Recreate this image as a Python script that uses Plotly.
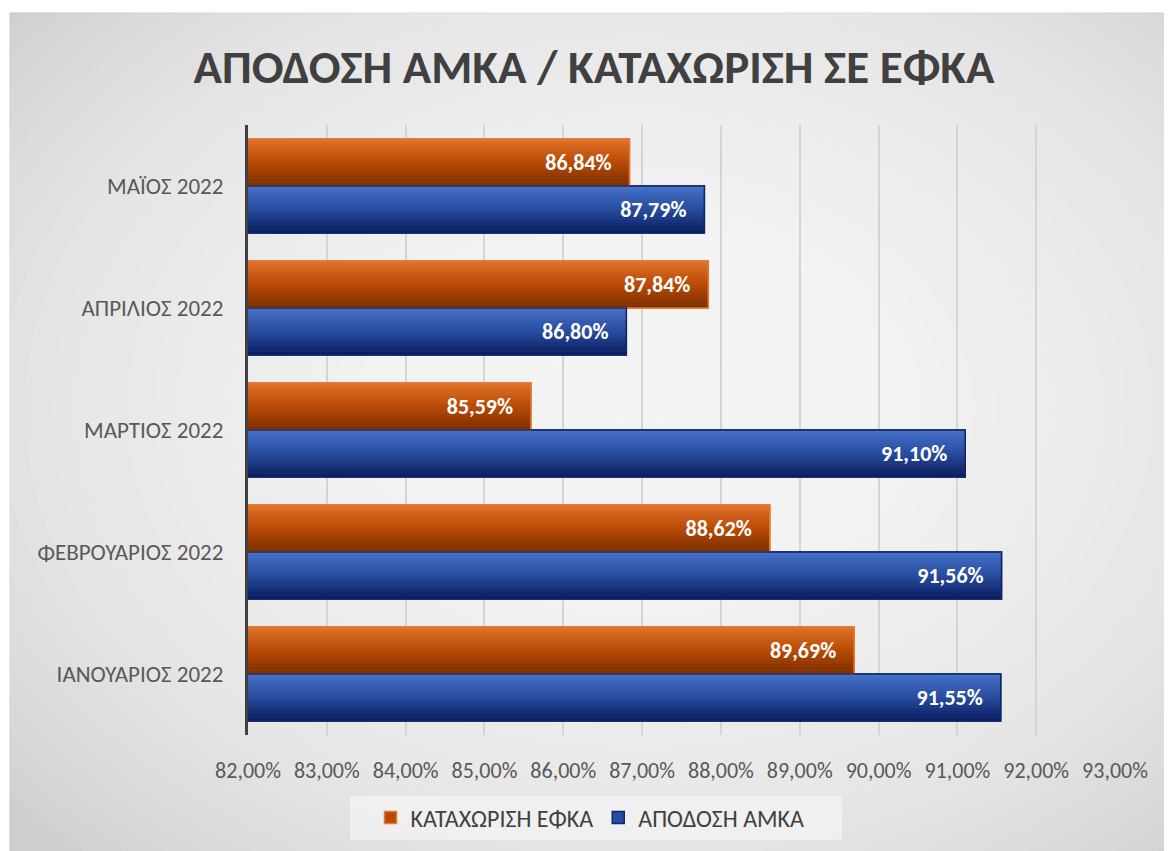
import plotly.graph_objects as go

months = ["ΙΑΝΟΥΑΡΙΟΣ 2022", "ΦΕΒΡΟΥΑΡΙΟΣ 2022", "ΜΑΡΤΙΟΣ 2022", "ΑΠΡΙΛΙΟΣ 2022", "ΜΑΪΟΣ 2022"]
apodosi_amka = [91.55, 91.56, 91.10, 86.80, 87.79]
kataxorisi_efka = [89.69, 88.62, 85.59, 87.84, 86.84]
tick_vals = [82, 83, 84, 85, 86, 87, 88, 89, 90, 91, 92, 93]
tick_text = ["82,00%", "83,00%", "84,00%", "85,00%", "86,00%", "87,00%",
             "88,00%", "89,00%", "90,00%", "91,00%", "92,00%", "93,00%"]

# page offset (browser body margin)
OX, OY = 8, 8
W, H = 1172, 851
L = 248 - OX
T = 125 - OY
R = W - (1115 - OX)
B = H - (735 - OY)
PW, PH = W - L - R, H - T - B


def px(x):
    return (x - OX - L) / PW


def py(y):
    return (H - B - (y - OY)) / PH


FONT = "Carlito, Calibri, Lato, 'Open Sans', sans-serif"


def fmt(v):
    return f"{v:.2f}".replace(".", ",") + "%" + "\u00a0" * 3


def lerp(c1, c2, t):
    a = [int(c1[i:i + 2], 16) for i in (1, 3, 5)]
    b = [int(c2[i:i + 2], 16) for i in (1, 3, 5)]
    return "#" + "".join(f"{round(a[k] + (b[k] - a[k]) * t):02x}" for k in range(3))


BW = 0.385  # bar thickness in category units
series = [
    # name, values, offset, bottom colour, mid colour, top colour, edge colour
    ("ΚΑΤΑΧΩΡΙΣΗ ΕΦΚΑ", kataxorisi_efka, 0.0, "#7E3000", "#B84A06", "#DE7028", "#E27A30"),
    ("ΑΠΟΔΟΣΗ ΑΜΚΑ", apodosi_amka, -BW, "#0B1F62", "#284C9E", "#4470C6", "#0E2668"),
]

fig = go.Figure()
# legend traces (solid, hidden beneath gradient strips)
for name, vals, off, cb, cm, ct, ce in series:
    fig.add_trace(go.Bar(y=months, x=vals, orientation="h", name=name,
                         offset=off, width=BW,
                         marker=dict(color=cm, line=dict(color=ce, width=1.5)),
                         hoverinfo="skip"))
# gradient strips
N = 14
for name, vals, off, cb, cm, ct, ce in series:
    for k in range(N):
        t = k / (N - 1)
        col = lerp(cb, cm, t * 2) if t < 0.5 else lerp(cm, ct, (t - 0.5) * 2)
        fig.add_trace(go.Bar(y=months, x=vals, orientation="h", showlegend=False,
                             offset=off + k * BW / N, width=BW / N * 1.08,
                             marker=dict(color=col, line=dict(width=0)),
                             hoverinfo="skip"))
# outlines + labels
for name, vals, off, cb, cm, ct, ce in series:
    fig.add_trace(go.Bar(y=months, x=vals, orientation="h", showlegend=False,
                         offset=off, width=BW,
                         marker=dict(color="rgba(0,0,0,0)", line=dict(color=ce, width=1.5)),
                         text=[fmt(v) for v in vals], textposition="inside",
                         insidetextanchor="end", cliponaxis=False,
                         textfont=dict(color="white", size=22, family=FONT, weight="bold"),
                         name=name))

shapes = []
shapes.append(dict(type="rect", xref="paper", yref="paper", layer="below",
                   x0=px(10), x1=px(1180), y0=py(860), y1=py(13),
                   fillcolor="#cfcfcf", line=dict(color="#c4c4c4", width=1)))
n = 32
cx, cy = 640, 410
for i in range(n):
    f = 1 - i / n
    rx, ry = 820 * f, 600 * f
    shapes.append(dict(type="circle", xref="paper", yref="paper", layer="below",
                       x0=px(cx - rx), x1=px(cx + rx),
                       y0=py(cy + ry), y1=py(cy - ry),
                       fillcolor="white", opacity=0.075, line=dict(width=0)))
# legend box
shapes.append(dict(type="rect", xref="paper", yref="paper", layer="below",
                   x0=px(350), x1=px(842), y0=py(840), y1=py(796),
                   fillcolor="#f2f2f2", opacity=0.8, line=dict(width=0)))

fig.update_layout(
    width=W, height=H,
    margin=dict(l=L, r=R, t=T, b=B),
    paper_bgcolor="white", plot_bgcolor="rgba(0,0,0,0)",
    barmode="overlay",
    shapes=shapes,
    title=dict(text="<b>ΑΠΟΔΟΣΗ ΑΜΚΑ / ΚΑΤΑΧΩΡΙΣΗ ΣΕ ΕΦΚΑ</b>",
               x=(594 - OX) / W, xanchor="center", y=1 - (67 - OY) / H, yanchor="middle",
               font=dict(size=47, color="#404040", family=FONT)),
    xaxis=dict(range=[82, 93], tickvals=tick_vals, ticktext=tick_text,
               showgrid=True, gridcolor="#d4d4d4", gridwidth=2,
               zeroline=False, showline=False, ticks="", ticklabelstandoff=20,
               tickfont=dict(size=22, color="#595959", family=FONT)),
    yaxis=dict(showline=True, linecolor="#404040", linewidth=3,
               showgrid=False, ticks="", ticklabelstandoff=17,
               range=[-0.5, 4.5],
               tickfont=dict(size=23, color="#595959", family=FONT)),
    legend=dict(orientation="h", x=px(590), xanchor="center",
                y=py(818), yanchor="middle", traceorder="normal",
                bgcolor="rgba(0,0,0,0)",
                font=dict(size=24, color="#404040", family=FONT)),
    showlegend=True,
)

fig.write_html("out.html")
